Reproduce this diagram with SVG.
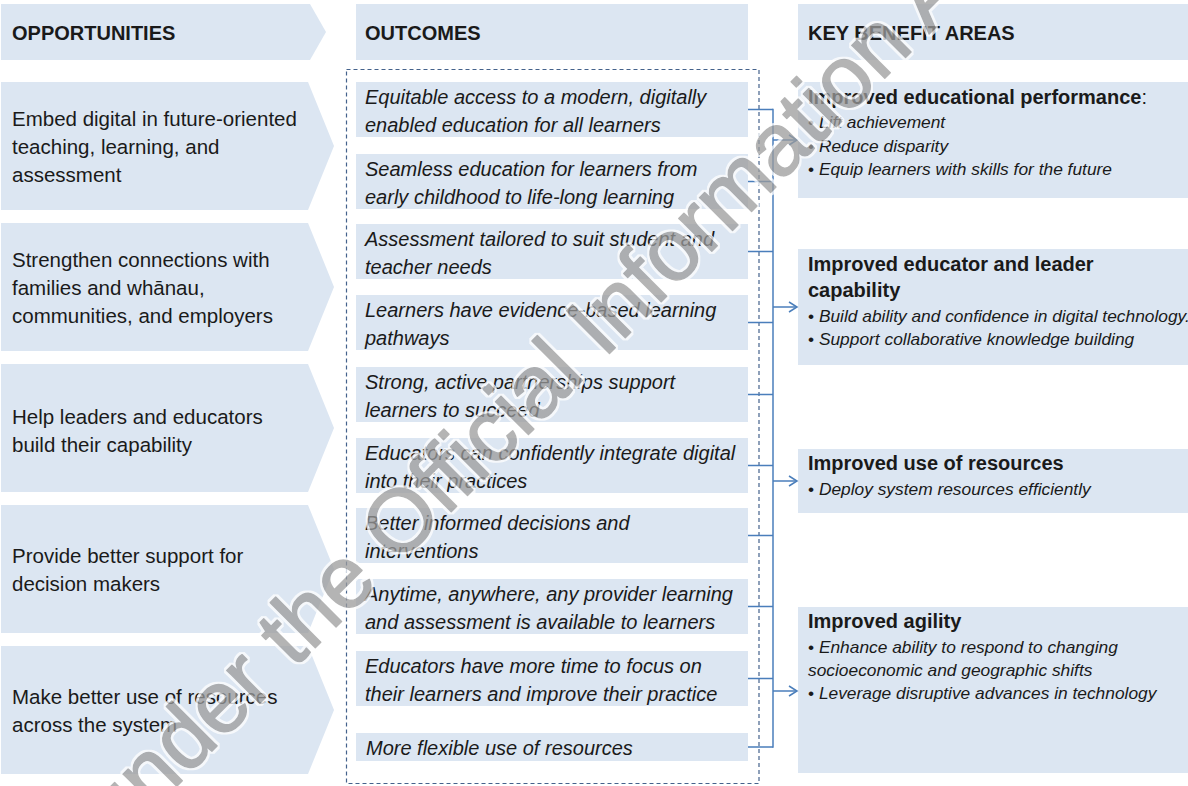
<svg xmlns="http://www.w3.org/2000/svg" width="1188" height="786" viewBox="0 0 1188 786">
<style>
.box{fill:#dce6f2}
.t{font-family:"Liberation Sans",Arial,sans-serif;fill:#1a1a1a}
.hd{font-size:20px;font-weight:bold}
.op{font-size:20.5px}
.oc{font-size:20px;font-style:italic}
.bh{font-size:20px;font-weight:bold}
.bl{font-size:17.35px;font-style:italic}
.bu{font-style:normal}
.con{fill:none;stroke:#4a7ebb;stroke-width:1.5}
.wm{font-family:"Liberation Sans",Arial,sans-serif;font-size:88px;fill:#9c9c9c;stroke:#9c9c9c;stroke-width:1.5;stroke-linejoin:round}
</style>
<defs>
<marker id="arr" markerUnits="userSpaceOnUse" markerWidth="12" markerHeight="14" refX="9" refY="6" orient="auto">
<path d="M1,1 L9,6 L1,11" fill="none" stroke="#4a7ebb" stroke-width="1.5"/>
</marker>
<filter id="halo" x="-5%" y="-20%" width="110%" height="140%">
<feMorphology in="SourceAlpha" operator="dilate" radius="1.5" result="d"/>
<feFlood flood-color="#ffffff"/>
<feComposite in2="d" operator="in" result="w"/>
<feMerge><feMergeNode in="w"/><feMergeNode in="SourceGraphic"/></feMerge>
</filter>
</defs>
<rect width="1188" height="786" fill="#ffffff"/>

<g id="header-opportunities">
<path class="box" d="M1,4 H310 L326,32 L310,60 H1 Z"/>
<text class="t hd" x="12" y="40">OPPORTUNITIES</text>
</g>
<g id="header-outcomes">
<rect class="box" x="356" y="4" width="392" height="56"/>
<text class="t hd" x="365" y="40">OUTCOMES</text>
</g>
<g id="header-benefits">
<rect class="box" x="798" y="4" width="390" height="56"/>
<text class="t hd" x="808" y="40">KEY BENEFIT AREAS</text>
</g>

<g id="opp1">
<path class="box" d="M1,82 H308 L334,146 L308,210 H1 Z"/>
<text class="t op" x="12" y="126">Embed digital in future-oriented</text>
<text class="t op" x="12" y="154">teaching, learning, and</text>
<text class="t op" x="12" y="182">assessment</text>
</g>
<g id="opp2">
<path class="box" d="M1,223 H308 L334,287 L308,351 H1 Z"/>
<text class="t op" x="12" y="267">Strengthen connections with</text>
<text class="t op" x="12" y="295">families and whānau,</text>
<text class="t op" x="12" y="323">communities, and employers</text>
</g>
<g id="opp3">
<path class="box" d="M1,364 H308 L334,428 L308,492 H1 Z"/>
<text class="t op" x="12" y="424">Help leaders and educators</text>
<text class="t op" x="12" y="452">build their capability</text>
</g>
<g id="opp4">
<path class="box" d="M1,505 H308 L334,569 L308,633 H1 Z"/>
<text class="t op" x="12" y="563">Provide better support for</text>
<text class="t op" x="12" y="591">decision makers</text>
</g>
<g id="opp5">
<path class="box" d="M1,646 H308 L334,710 L308,774 H1 Z"/>
<text class="t op" x="12" y="704">Make better use of resources</text>
<text class="t op" x="12" y="732">across the system</text>
</g>

<g id="outcomes-frame">
<rect x="346.5" y="69.5" width="412.5" height="714" fill="none" stroke="#44628c" stroke-width="1.2" stroke-dasharray="4 3"/>
</g>

<g id="out1">
<rect class="box" x="356" y="82" width="392" height="55"/>
<text class="t oc" x="365" y="104">Equitable access to a modern, digitally</text>
<text class="t oc" x="365" y="132">enabled education for all learners</text>
</g>
<g id="out2">
<rect class="box" x="356" y="154" width="392" height="55"/>
<text class="t oc" x="365" y="176">Seamless education for learners from</text>
<text class="t oc" x="365" y="204">early childhood to life-long learning</text>
</g>
<g id="out3">
<rect class="box" x="356" y="224" width="392" height="55"/>
<text class="t oc" x="365" y="246">Assessment tailored to suit student and</text>
<text class="t oc" x="365" y="274">teacher needs</text>
</g>
<g id="out4">
<rect class="box" x="356" y="295" width="392" height="55"/>
<text class="t oc" x="365" y="317">Learners have evidence-based learning</text>
<text class="t oc" x="365" y="345">pathways</text>
</g>
<g id="out5">
<rect class="box" x="356" y="367" width="392" height="55"/>
<text class="t oc" x="365" y="389">Strong, active partnerships support</text>
<text class="t oc" x="365" y="417">learners to succeed</text>
</g>
<g id="out6">
<rect class="box" x="356" y="438" width="392" height="55"/>
<text class="t oc" x="365" y="460">Educators can confidently integrate digital</text>
<text class="t oc" x="365" y="488">into their practices</text>
</g>
<g id="out7">
<rect class="box" x="356" y="508" width="392" height="55"/>
<text class="t oc" x="365" y="530">Better informed decisions and</text>
<text class="t oc" x="365" y="558">interventions</text>
</g>
<g id="out8">
<rect class="box" x="356" y="579" width="392" height="55"/>
<text class="t oc" x="365" y="601">Anytime, anywhere, any provider learning</text>
<text class="t oc" x="365" y="629">and assessment is available to learners</text>
</g>
<g id="out9">
<rect class="box" x="356" y="651" width="392" height="55"/>
<text class="t oc" x="365" y="673">Educators have more time to focus on</text>
<text class="t oc" x="365" y="701">their learners and improve their practice</text>
</g>
<g id="out10">
<rect class="box" x="356" y="733" width="392" height="28"/>
<text class="t oc" x="366" y="755">More flexible use of resources</text>
</g>

<g id="ben1">
<rect class="box" x="798" y="82" width="390" height="116"/>
<text class="t bh" x="808" y="104">Improved educational performance<tspan font-weight="normal">:</tspan></text>
<text class="t bl" x="808" y="128"><tspan class="bu">•</tspan> Lift achievement</text>
<text class="t bl" x="808" y="151.5"><tspan class="bu">•</tspan> Reduce disparity</text>
<text class="t bl" x="808" y="175"><tspan class="bu">•</tspan> Equip learners with skills for the future</text>
</g>
<g id="ben2">
<rect class="box" x="798" y="249" width="390" height="116"/>
<text class="t bh" x="808" y="271">Improved educator and leader</text>
<text class="t bh" x="808" y="297">capability</text>
<text class="t bl" x="808" y="322"><tspan class="bu">•</tspan> Build ability and confidence in digital technology.</text>
<text class="t bl" x="808" y="345"><tspan class="bu">•</tspan> Support collaborative knowledge building</text>
</g>
<g id="ben3">
<rect class="box" x="798" y="449" width="390" height="64"/>
<text class="t bh" x="808" y="470">Improved use of resources</text>
<text class="t bl" x="808" y="495"><tspan class="bu">•</tspan> Deploy system resources efficiently</text>
</g>
<g id="ben4">
<rect class="box" x="798" y="607" width="390" height="166"/>
<text class="t bh" x="808" y="628">Improved agility</text>
<text class="t bl" x="808" y="652.5"><tspan class="bu">•</tspan> Enhance ability to respond to changing</text>
<text class="t bl" x="808" y="675.5">socioeconomic and geographic shifts</text>
<text class="t bl" x="808" y="699"><tspan class="bu">•</tspan> Leverage disruptive advances in technology</text>
</g>

<g id="connectors">
<path class="con" d="M748,109.5 H773 M748,181.5 H773 M748,251.5 H773 M748,322.5 H773 M748,394.5 H773 M748,465.5 H773 M748,535.5 H773 M748,606.5 H773 M748,678.5 H773 M748,747 H773"/>
<path class="con" d="M773,108.75 V747.75"/>
<path class="con" d="M773,140 H797" marker-end="url(#arr)"/>
<path class="con" d="M773,307 H797" marker-end="url(#arr)"/>
<path class="con" d="M773,481 H797" marker-end="url(#arr)"/>
<path class="con" d="M773,691 H797" marker-end="url(#arr)"/>
</g>

<g id="watermark" opacity="0.75" filter="url(#halo)">
<text class="wm" transform="translate(-163,1126) rotate(-45)">Released under the Official Information Act</text>
</g>
</svg>
